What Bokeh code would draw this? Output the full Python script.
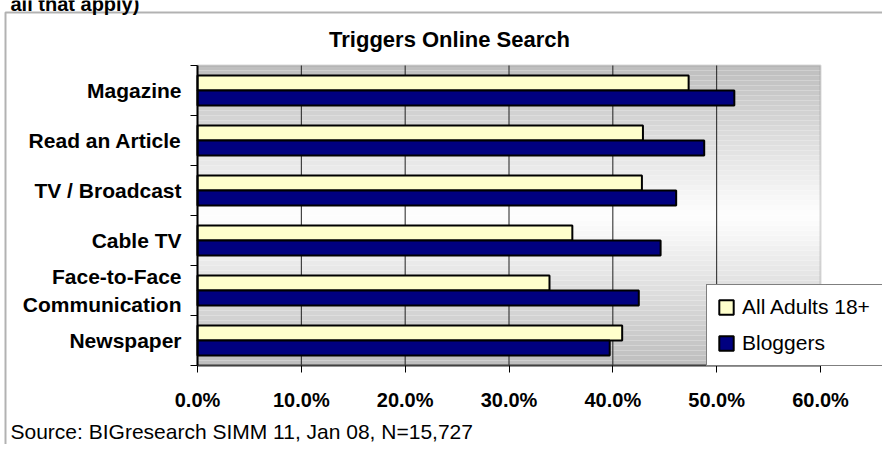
import numpy as np
from bokeh.plotting import figure
from bokeh.models import (Range1d, FixedTicker, NumeralTickFormatter, Label,
                          BoxAnnotation, Legend, LegendItem, ColumnDataSource,
                          LinearAxis)
from bokeh.transform import dodge
from bokeh.embed import file_html
from bokeh.resources import INLINE

# ---------------- data ----------------
categories = ["Magazine", "Read an Article", "TV / Broadcast", "Cable TV",
              "Face-to-Face\nCommunication", "Newspaper"]
adults = [47.3, 42.9, 42.8, 36.1, 33.9, 40.9]      # % All Adults 18+
bloggers = [51.7, 48.8, 46.1, 44.6, 42.5, 39.7]    # % Bloggers
series_names = ["All Adults 18+", "Bloggers"]
x_ticks = [0, 10, 20, 30, 40, 50, 60]
title_text = "Triggers Online Search"
source_text = "Source: BIGresearch SIMM 11, Jan 08, N=15,727"
header_text = "all that apply)"

# ---------------- layout constants (canvas pixels) ----------------
W, H = 882, 444
PL, PR, PT, PB = 197, 820, 65, 365     # plot area edges
XMAX = 0.6
NCAT = len(categories)

def dx(px):
    return (px - PL) / (PR - PL) * XMAX

def dy(py):
    return (PB - py) / (PB - PT) * NCAT

FONT = "Liberation Sans"

p = figure(width=W, height=H, output_backend="svg", toolbar_location=None,
           x_range=Range1d(dx(0), dx(W)), y_range=Range1d(dy(H), dy(0)),
           x_axis_location=None, y_axis_location=None, min_border=0)
p.background_fill_color = "white"
p.border_fill_color = "white"
p.outline_line_color = None
p.xgrid.visible = False
p.ygrid.visible = False

# gradient background of the plot area (grey -> white -> grey)
nb = 60
edges = np.linspace(0, NCAT, nb + 1)
mids = (edges[:-1] + edges[1:]) / 2
t = np.abs(mids - NCAT / 2) / (NCAT / 2)
g = (255 - t * (255 - 190)).astype(int)
cols = ["#%02x%02x%02x" % (v, v, v) for v in g]
p.quad(left=0, right=XMAX, bottom=edges[:-1], top=edges[1:] + 0.001,
       fill_color=cols, line_color=None, level="image")
# plot-area border
p.add_layout(BoxAnnotation(left=0, right=XMAX, bottom=0, top=NCAT, fill_color=None,
                           line_color="#808080", line_width=2, level="underlay"))

# vertical gridlines
gx = [v / 100 for v in x_ticks[1:-1]]
p.segment(x0=gx, x1=gx, y0=0, y1=NCAT, line_color="#202020", line_width=1)

ypos = NCAT - np.arange(NCAT) - 0.5
src = ColumnDataSource(dict(y=ypos, adults=np.array(adults) / 100,
                            bloggers=np.array(bloggers) / 100))

r1 = p.hbar(y=dodge("y", 0.15), left=0, right="adults", height=0.3, source=src,
            fill_color="#FFFFCC", line_color="black", line_width=2)
r2 = p.hbar(y=dodge("y", -0.15), left=0, right="bloggers", height=0.3, source=src,
            fill_color="#000080", line_color="black", line_width=2)

# x axis
xa = LinearAxis(fixed_location=0, bounds=(0, XMAX))
xa.ticker = FixedTicker(ticks=[v / 100 for v in x_ticks], minor_ticks=[])
xa.formatter = NumeralTickFormatter(format="0.0%")
xa.axis_line_color = "#404040"
xa.axis_line_width = 2
xa.major_tick_out = 7
xa.major_tick_in = 0
xa.major_tick_line_color = "black"
xa.major_label_standoff = 16
xa.major_label_text_font = FONT
xa.major_label_text_font_style = "bold"
xa.major_label_text_font_size = "20px"
xa.major_label_text_color = "black"
p.add_layout(xa, "below")

# y axis
ya = LinearAxis(fixed_location=0, bounds=(0, NCAT))
ya.ticker = FixedTicker(ticks=list(ypos), minor_ticks=list(range(NCAT + 1)))
ya.major_label_overrides = {float(y): c for y, c in zip(ypos, categories)}
ya.axis_line_color = "black"
ya.axis_line_width = 2
ya.major_tick_line_color = None
ya.major_tick_out = 0
ya.major_tick_in = 0
ya.minor_tick_out = 7
ya.minor_tick_in = 0
ya.minor_tick_line_color = "black"
ya.major_label_standoff = 9
ya.major_label_text_font = FONT
ya.major_label_text_font_style = "bold"
ya.major_label_text_font_size = "21px"
ya.major_label_text_color = "black"
p.add_layout(ya, "left")

# legend
legend = Legend(items=[LegendItem(label=series_names[0], renderers=[r1]),
                       LegendItem(label=series_names[1], renderers=[r2])],
                location=(706, H - 366), margin=0, padding=10, spacing=12,
                glyph_width=18, glyph_height=18, label_standoff=7, label_width=130,
                label_text_font=FONT, label_text_font_size="21px",
                label_text_color="black",
                border_line_color="black", border_line_width=1,
                background_fill_color="white", background_fill_alpha=1)
p.add_layout(legend)

# title, header fragment and source
p.add_layout(Label(x=dx(449), y=dy(39), text=title_text, text_align="center",
                   text_baseline="middle", text_font=FONT, text_font_style="bold",
                   text_font_size="22px", text_color="black"))
p.add_layout(Label(x=dx(10), y=dy(431), text=source_text, text_align="left",
                   text_baseline="middle", text_font=FONT,
                   text_font_size="21px", text_color="black"))
p.add_layout(Label(x=dx(10), y=dy(3), text=header_text, text_align="left",
                   text_baseline="alphabetic", text_font=FONT, text_font_style="bold",
                   text_font_size="20px", text_color="black"))

# outer frame of the chart object
p.add_layout(BoxAnnotation(left=dx(5), right=dx(W + 50), top=dy(12), bottom=dy(H + 50),
                           fill_color=None, line_color="black", line_width=2))

open("out.html", "w").write(file_html(p, INLINE))
